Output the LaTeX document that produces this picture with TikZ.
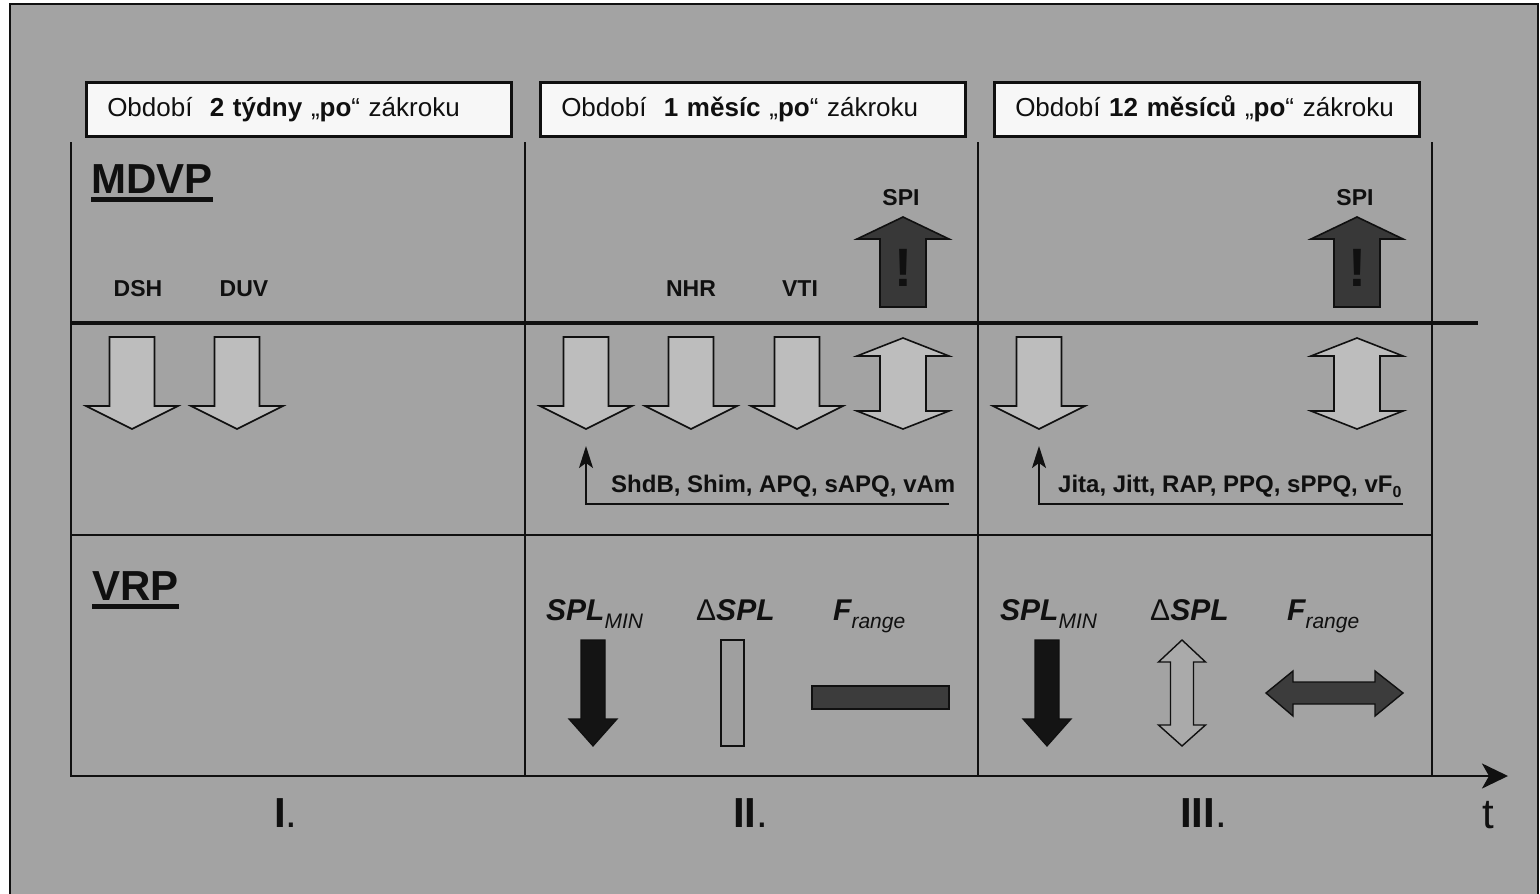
\documentclass[tikz,border=0pt]{standalone}
\usepackage{fontspec}
\setmainfont{Liberation Sans}
\usetikzlibrary{arrows.meta}

\definecolor{panel}{HTML}{A3A3A3}
\definecolor{ink}{HTML}{101010}
\definecolor{hdrfill}{HTML}{F7F7F7}
\definecolor{lightfill}{HTML}{BDBDBD}
\definecolor{spifill}{HTML}{383838}
\definecolor{blackfill}{HTML}{141414}
\definecolor{barfill}{HTML}{3C3C3C}
\definecolor{rectfill}{HTML}{9F9F9F}
\definecolor{dblfill}{HTML}{AAAAAA}

\newcommand\pxfont[1]{\fontsize{#1}{#1}\selectfont}

\tikzset{
  divline/.style={draw=ink, line width=2pt},
  hdr/.style={draw=ink, line width=2.5pt, fill=hdrfill, anchor=north west,
    minimum width=425pt, minimum height=54pt, inner xsep=21pt, inner ysep=0pt,
    text width=383pt, align=left, font=\pxfont{26}},
  section/.style={anchor=base west, font=\bfseries\pxfont{42}},
  mlabel/.style={anchor=base, font=\bfseries\pxfont{23}},
  listlbl/.style={anchor=base west, font=\bfseries\pxfont{24}},
  vlabel/.style={anchor=base west, font=\bfseries\itshape\pxfont{30}},
  period/.style={anchor=base west, font=\pxfont{42}},
  lightblock/.style={draw=ink, line width=1.6pt, fill=lightfill},
  darkblock/.style={draw=ink, line width=1.6pt, fill=spifill},
  blackblock/.style={draw=ink, line width=1.2pt, fill=blackfill},
  greyblock/.style={draw=ink, line width=1.4pt, fill=dblfill},
  conn/.style={draw=ink, line width=1.8pt, -{Stealth[length=22pt,width=14pt,inset=5pt]}},
  % block arrows of the MDVP rows
  pics/mdvpdown/.style={code={
    \draw[lightblock] (-22.5,337) -- (22.5,337) -- (22.5,406) -- (46,406)
      -- (0,429) -- (-46,406) -- (-22.5,406) -- cycle;}},
  pics/mdvpboth/.style={code={
    \draw[lightblock] (0,338) -- (46,356) -- (23,356) -- (23,411) -- (46,411)
      -- (0,429) -- (-46,411) -- (-23,411) -- (-23,356) -- (-46,356) -- cycle;}},
  pics/spiup/.style={code={
    \draw[darkblock] (0,217) -- (46,239) -- (23,239) -- (23,307) -- (-23,307)
      -- (-23,239) -- (-46,239) -- cycle;
    \node[font=\bfseries\pxfont{54}] (-mark) at (0,268) {!};}},
  % block arrows of the VRP rows
  pics/vrpdown/.style={code={
    \draw[blackblock] (-12,640) -- (12,640) -- (12,719) -- (24,719)
      -- (0,746) -- (-24,719) -- (-12,719) -- cycle;}},
  pics/vrpboth/.style={code={
    \draw[greyblock] (0,640) -- (23.5,662) -- (11.5,662) -- (11.5,725) -- (23.5,725)
      -- (0,746) -- (-23.5,725) -- (-11.5,725) -- (-11.5,662) -- (-23.5,662) -- cycle;}},
}

\begin{document}
\begin{tikzpicture}[x=1pt, y=-1pt, line join=miter,
  every node/.style={inner sep=0pt, text=ink}]
  \useasboundingbox (0,0) rectangle (1540,894);
  \fill[white] (0,0) rectangle (1540,894);
  \draw[draw=ink, line width=1.5pt, fill=panel] (10,4) rectangle (1538,900);

  % period headers
  \node[hdr] (hdr1) at (85,81) {Období~~\textbf{2 týdny} „\textbf{po}“ zákroku};
  \node[hdr] (hdr2) at (539,81) {Období~~\textbf{1 měsíc} „\textbf{po}“ zákroku};
  \node[hdr] (hdr3) at (993,81) {Období \textbf{12 měsíců} „\textbf{po}“ zákroku};

  % grid
  \draw[divline] (71,142) -- (71,776);
  \draw[divline] (525,142) -- (525,776);
  \draw[divline] (978,142) -- (978,776);
  \draw[divline] (1432,142) -- (1432,776);
  \draw[draw=ink, line width=4.5pt] (71,323) -- (1478,323);
  \draw[divline] (71,535) -- (1432,535);

  % time axis
  \coordinate (ax0) at (70,776);
  \coordinate (ax1) at (1508,776);
  \draw[draw=ink, line width=2.5pt, -{Stealth[length=26pt,width=25pt,inset=7pt]}] (ax0) -- (ax1);

  % section titles
  \node[section] (mdvp) at (91,193) {MDVP};
  \draw[draw=ink, line width=4.5pt] ([yshift=-6.5pt]mdvp.base west) -- ([yshift=-6.5pt]mdvp.base east);
  \node[section] (vrp) at (92,600) {VRP};
  \draw[draw=ink, line width=4.5pt] ([yshift=-6.5pt]vrp.base west) -- ([yshift=-6.5pt]vrp.base east);

  % MDVP labels
  \node[mlabel] (dsh) at (138,296) {DSH};
  \node[mlabel] (duv) at (244,296) {DUV};
  \node[mlabel] (nhr) at (691,296) {NHR};
  \node[mlabel] (vti) at (800,296) {VTI};
  \node[mlabel] (spiA) at (901,205) {SPI};
  \node[mlabel] (spiB) at (1355,205) {SPI};

  % MDVP arrows
  \pic (dA) at (132,0) {mdvpdown};
  \pic (dB) at (237,0) {mdvpdown};
  \pic (dC) at (586,0) {mdvpdown};
  \pic (dD) at (691,0) {mdvpdown};
  \pic (dE) at (797,0) {mdvpdown};
  \pic (bA) at (903,0) {mdvpboth};
  \pic (dF) at (1039,0) {mdvpdown};
  \pic (bB) at (1357,0) {mdvpboth};
  \pic (uA) at (903,0) {spiup};
  \pic (uB) at (1357,0) {spiup};

  % parameter lists and their pointers
  \node[listlbl] (listA) at (611,492) {ShdB, Shim, APQ, sAPQ, vAm};
  \node[listlbl] (listB) at (1058,492) {Jita, Jitt, RAP, PPQ, sPPQ, vF\raisebox{-5pt}{\pxfont{16}0}};
  \coordinate (pA0) at (949,504);
  \coordinate (pA1) at (586,446);
  \coordinate (pB0) at (1403,504);
  \coordinate (pB1) at (1039,446);
  \draw[conn] (pA0) -| (pA1);
  \draw[conn] (pB0) -| (pB1);

  % VRP labels
  \node[vlabel] (splA) at (546,620) {SPL\raisebox{-8pt}{\mdseries\pxfont{21}MIN}};
  \node[vlabel] (dsplA) at (696,620) {{\mdseries\upshape Δ}SPL};
  \node[vlabel] (frA) at (833,620) {F\raisebox{-8pt}{\mdseries\pxfont{21}range}};
  \node[vlabel] (splB) at (1000,620) {SPL\raisebox{-8pt}{\mdseries\pxfont{21}MIN}};
  \node[vlabel] (dsplB) at (1150,620) {{\mdseries\upshape Δ}SPL};
  \node[vlabel] (frB) at (1287,620) {F\raisebox{-8pt}{\mdseries\pxfont{21}range}};

  % VRP shapes
  \pic (vA) at (593,0) {vrpdown};
  \draw[draw=ink, line width=1.4pt, fill=rectfill] (721,640) rectangle (744,746);
  \draw[draw=ink, line width=1.4pt, fill=barfill] (812,686) rectangle (949,709);
  \pic (vB) at (1047,0) {vrpdown};
  \pic (vC) at (1182,0) {vrpboth};
  \draw[draw=ink, line width=1.4pt, fill=barfill] (1266,693) -- (1293,671) -- (1293,682)
    -- (1375,682) -- (1375,671) -- (1403,693) -- (1375,716) -- (1375,704)
    -- (1293,704) -- (1293,716) -- cycle;

  % period numbers
  \node[period] (pI) at (274,827) {\textbf{I}.};
  \node[period] (pII) at (733,827) {\textbf{II}.};
  \node[period] (pIII) at (1180,827) {\textbf{III}.};
  \node[period] (tlab) at (1482,828) {t};
\end{tikzpicture}
\end{document}
